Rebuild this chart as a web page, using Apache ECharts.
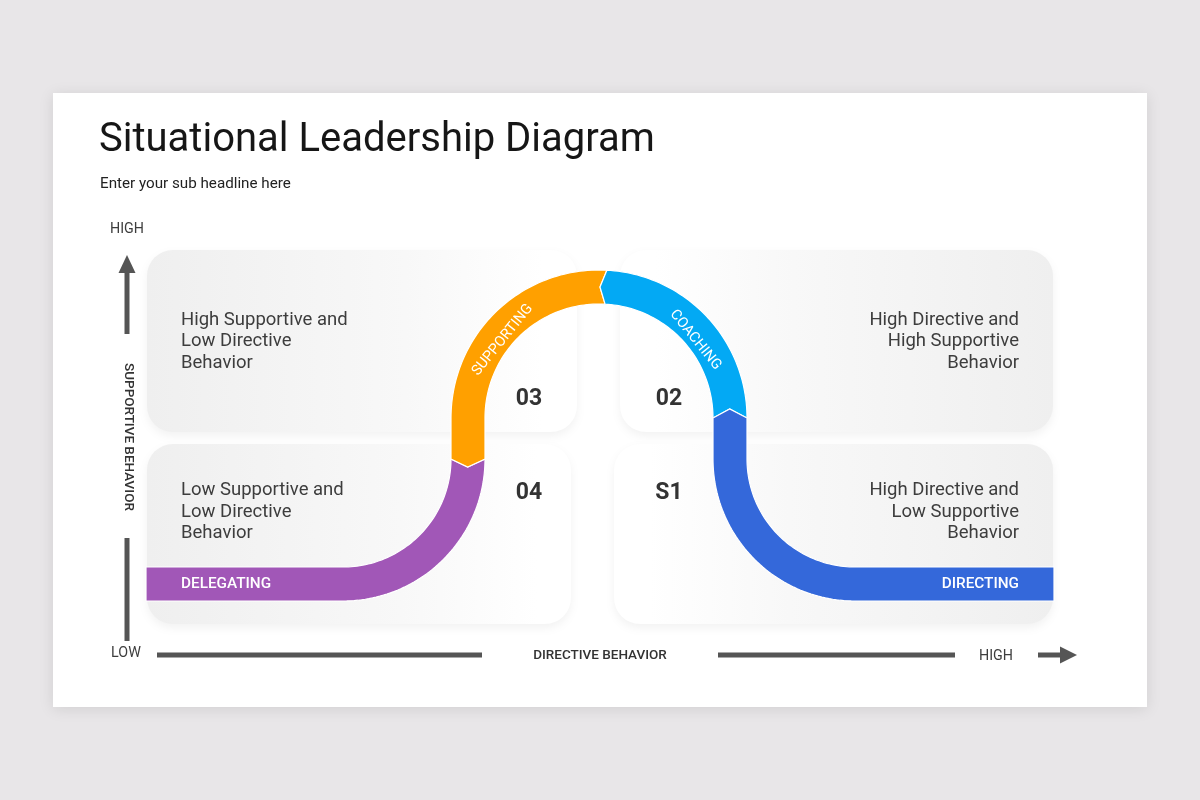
<!DOCTYPE html>
<html>
<head>
<meta charset="utf-8">
<script src="https://cdn.jsdelivr.net/npm/echarts@6/dist/echarts.min.js"></script>
<style>
html,body{margin:0;padding:0;background:#e8e6e8;}
#chart{width:1200px;height:800px;}
</style>
</head>
<body>
<div id="chart"></div>
<script>
// ---------- data ----------
const titleText = 'Situational Leadership Diagram';
const subTitleText = 'Enter your sub headline here';
const stageNames = ['DELEGATING', 'SUPPORTING', 'COACHING', 'DIRECTING'];
const stageNumbers = ['04', '03', '02', 'S1'];
const quadrantTexts = [
  'High Supportive and\nLow Directive\nBehavior',
  'High Directive and\nHigh Supportive\nBehavior',
  'Low Supportive and\nLow Directive\nBehavior',
  'High Directive and\nLow Supportive\nBehavior'
];
const axisNames = ['DIRECTIVE BEHAVIOR', 'SUPPORTIVE BEHAVIOR'];
const levelLabels = ['LOW', 'HIGH'];

// ---------- styles ----------
const FONT = 'Roboto, "Noto Sans", sans-serif';
const stageColors = ['#a157b7', '#ffa000', '#03a9f4', '#3468da'];
const axisColor = '#555555';
const textColor = '#3d3d3d';

// ---------- geometry of the band (diagram units on hidden axes) ----------
const HALF = 17;
const G = { xL: 146, xR: 1054, yB: 584, cx: 599, R: 131, yA: 418, yK: 459, r: 125 };

function buildPath() {
  const pts = [];
  let s = 0, last = null;
  const marks = {};
  const add = (x, y, tx, ty) => {
    if (last) s += Math.hypot(x - last.x, y - last.y);
    last = { x, y, tx, ty, s };
    pts.push(last);
  };
  const N = 60;
  const qL = G.cx - G.R - G.r, qR = G.cx + G.R + G.r;
  add(G.xL, G.yB, 1, 0);
  add(qL, G.yB, 1, 0);
  for (let k = 1; k <= N; k++) {
    const a = Math.PI / 2 - (Math.PI / 2) * k / N;
    add(qL + G.r * Math.cos(a), G.yK + G.r * Math.sin(a), Math.sin(a), -Math.cos(a));
  }
  marks.b1 = s;
  add(G.cx - G.R, G.yA, 0, -1);
  marks.archStart = s;
  for (let k = 1; k <= 2 * N; k++) {
    const a = Math.PI + Math.PI * k / (2 * N);
    add(G.cx + G.R * Math.cos(a), G.yA + G.R * Math.sin(a), -Math.sin(a), Math.cos(a));
    if (k === N) marks.top = s;
  }
  marks.archEnd = s;
  add(G.cx + G.R, G.yK, 0, 1);
  for (let k = 1; k <= N; k++) {
    const a = Math.PI - (Math.PI / 2) * k / N;
    add(qR + G.r * Math.cos(a), G.yK + G.r * Math.sin(a), Math.sin(a), -Math.cos(a));
  }
  add(G.xR, G.yB, 1, 0);
  marks.total = s;
  return { pts, marks };
}
const PATH = buildPath();
const BOUNDS = [0, PATH.marks.b1, PATH.marks.top + 7, PATH.marks.archEnd, PATH.marks.total];
const TIP = [0, 8, 6, 9];

function at(s) {
  const p = PATH.pts;
  if (s <= p[0].s) return p[0];
  for (let i = 1; i < p.length; i++) {
    if (p[i].s >= s) {
      const a = p[i - 1], b = p[i];
      const t = b.s === a.s ? 0 : (s - a.s) / (b.s - a.s);
      let tx = a.tx + (b.tx - a.tx) * t, ty = a.ty + (b.ty - a.ty) * t;
      const l = Math.hypot(tx, ty) || 1;
      return { x: a.x + (b.x - a.x) * t, y: a.y + (b.y - a.y) * t, tx: tx / l, ty: ty / l, s };
    }
  }
  return p[p.length - 1];
}
function sampleRange(s0, s1) {
  const out = [at(s0)];
  PATH.pts.forEach(p => { if (p.s > s0 + 0.01 && p.s < s1 - 0.01) out.push(p); });
  out.push(at(s1));
  return out;
}
function segmentPoints(i, api) {
  const s0 = BOUNDS[i], s1 = BOUNDS[i + 1];
  const pts = [];
  if (i > 0) { const c = at(s0 - TIP[i]); pts.push([c.x, c.y]); }
  const sm = sampleRange(s0, s1);
  sm.forEach(p => pts.push([p.x - p.ty * HALF, p.y + p.tx * HALF]));
  if (i < 3) { const c = at(s1 - TIP[i + 1]); pts.push([c.x, c.y]); }
  sm.slice().reverse().forEach(p => pts.push([p.x + p.ty * HALF, p.y - p.tx * HALF]));
  return pts.map(q => api.coord(q));
}

// ---------- render functions ----------
function renderCard(params, api) {
  const a = api.coord([53, 93]), b = api.coord([1147, 707]);
  const t1 = api.coord([99, 141]), t2 = api.coord([100, 184]);
  return {
    type: 'group',
    children: [
      { type: 'rect', shape: { x: a[0], y: a[1], width: b[0] - a[0], height: b[1] - a[1] },
        style: { fill: '#ffffff', shadowBlur: 14, shadowColor: 'rgba(0,0,0,0.10)', shadowOffsetY: 2 } },
      { type: 'text', x: t1[0], y: t1[1],
        style: { text: titleText, fill: '#161616', fontSize: 40, fontFamily: FONT, fontWeight: 'normal', align: 'left', verticalAlign: 'middle' } },
      { type: 'text', x: t2[0], y: t2[1],
        style: { text: subTitleText, fill: '#222', fontSize: 15.2, fontFamily: FONT, align: 'left', verticalAlign: 'middle' } }
    ]
  };
}

const PANELS = [
  { x: 147, y: 250, w: 430, h: 182, side: 'L', tx: 181, ty: 341.5 },
  { x: 620, y: 250, w: 433, h: 182, side: 'R', tx: 1019, ty: 341.5 },
  { x: 147, y: 444, w: 424, h: 180, side: 'L', tx: 181, ty: 512 },
  { x: 614, y: 444, w: 439, h: 180, side: 'R', tx: 1019, ty: 512 }
];
function renderPanel(params, api) {
  const i = params.dataIndex, P = PANELS[i];
  const a = api.coord([P.x, P.y]), b = api.coord([P.x + P.w, P.y + P.h]);
  const tp = api.coord([P.tx, P.ty]);
  const grad = P.side === 'L'
    ? new echarts.graphic.LinearGradient(0, 0, 1, 0, [{ offset: 0, color: '#efefef' }, { offset: 0.6, color: '#f8f8f8' }, { offset: 0.92, color: '#ffffff' }, { offset: 1, color: '#ffffff' }])
    : new echarts.graphic.LinearGradient(0, 0, 1, 0, [{ offset: 0, color: '#ffffff' }, { offset: 0.08, color: '#ffffff' }, { offset: 0.4, color: '#f8f8f8' }, { offset: 1, color: '#efefef' }]);
  return {
    type: 'group',
    children: [
      { type: 'rect', shape: { x: a[0], y: a[1], width: b[0] - a[0], height: b[1] - a[1], r: 26 },
        style: { fill: grad, shadowBlur: 8, shadowColor: 'rgba(0,0,0,0.05)', shadowOffsetY: 4 } },
      { type: 'text', x: tp[0], y: tp[1],
        style: { text: quadrantTexts[i], fill: textColor, fontSize: 18.5, lineHeight: 21.5, fontFamily: FONT,
          align: P.side === 'L' ? 'left' : 'right', verticalAlign: 'middle' } }
    ]
  };
}

const STAGE_LABEL = [
  { kind: 'flat', x: 181, y: 584, align: 'left' },
  { kind: 'arc', s: () => PATH.marks.archStart + G.R * 0.68, off: 7 },
  { kind: 'arc', s: () => PATH.marks.archEnd - G.R * 0.68, off: 7 },
  { kind: 'flat', x: 1019, y: 584, align: 'right' }
];
const NUM_POS = [[529, 493.5], [529, 399.5], [669, 399.5], [669, 493.5]];
function renderStage(params, api) {
  const i = params.dataIndex;
  const children = [];
  children.push({ type: 'polygon', shape: { points: segmentPoints(i, api) },
    style: { fill: stageColors[i], stroke: '#ffffff', lineWidth: 1.2, lineJoin: 'miter' } });
  const L = STAGE_LABEL[i];
  if (L.kind === 'flat') {
    const p = api.coord([L.x, L.y]);
    children.push({ type: 'text', x: p[0], y: p[1],
      style: { text: stageNames[i], fill: '#ffffff', fontSize: 15.3, fontFamily: FONT, fontWeight: 500, align: L.align, verticalAlign: 'middle' } });
  } else {
    const c = at(L.s());
    const nx = c.x - G.cx, ny = c.y - G.yA, nl = Math.hypot(nx, ny);
    const px = c.x - nx / nl * L.off, py = c.y - ny / nl * L.off;
    const p = api.coord([px, py]);
    children.push({ type: 'text', x: p[0], y: p[1], rotation: -Math.atan2(c.ty, c.tx),
      style: { text: stageNames[i], fill: '#ffffff', fontSize: 14.5, fontFamily: FONT, align: 'center', verticalAlign: 'middle' } });
  }
  const np = api.coord(NUM_POS[i]);
  children.push({ type: 'text', x: np[0], y: np[1],
    style: { text: stageNumbers[i], fill: '#333333', fontSize: 23, fontWeight: 'bold', fontFamily: FONT, align: 'center', verticalAlign: 'middle' } });
  return { type: 'group', children };
}

function renderAxes(params, api) {
  const c = (x, y) => api.coord([x, y]);
  const poly = pts => ({ type: 'polygon', shape: { points: pts.map(q => c(q[0], q[1])) }, style: { fill: axisColor } });
  const rect = (x0, y0, x1, y1) => poly([[x0, y0], [x1, y0], [x1, y1], [x0, y1]]);
  const txt = (t, x, y, o) => Object.assign({ type: 'text', x: c(x, y)[0], y: c(x, y)[1] },
    { rotation: (o && o.rot) || 0,
      style: Object.assign({ text: t, fill: '#3d3d3d', fontSize: 14.3, fontFamily: FONT, align: 'center', verticalAlign: 'middle' }, (o && o.style) || {}) });
  return {
    type: 'group',
    children: [
      poly([[127, 255], [135.5, 273], [118.5, 273]]),
      rect(124.5, 272, 129.5, 334),
      rect(124.5, 538, 129.5, 641),
      txt(levelLabels[1], 127, 229.5),
      txt(levelLabels[0], 126, 653.5),
      txt(axisNames[1], 128, 437, { rot: -Math.PI / 2, style: { fontSize: 13.5, fontWeight: 500, fill: '#333' } }),
      rect(157, 652.5, 482, 657.5),
      rect(718, 652.5, 955, 657.5),
      txt(axisNames[0], 600, 656, { style: { fontSize: 13.5, fontWeight: 500, fill: '#333' } }),
      txt(levelLabels[1], 996, 656.5),
      rect(1038, 652.5, 1061, 657.5),
      poly([[1060, 646.5], [1077, 655], [1060, 663.5]])
    ]
  };
}

// ---------- chart ----------
const chart = echarts.init(document.getElementById('chart'), null, { renderer: 'canvas' });
chart.setOption({
  backgroundColor: '#e8e6e8',
  animation: false,
  grid: { left: 0, right: 0, top: 0, bottom: 0 },
  xAxis: { type: 'value', min: 0, max: 1200, show: false },
  yAxis: { type: 'value', min: 0, max: 800, inverse: true, show: false },
  series: [
    { type: 'custom', name: 'card', z: 1, silent: true, data: [[0, 0]], renderItem: renderCard },
    { type: 'custom', name: 'quadrants', z: 2, silent: true, data: quadrantTexts.map((t, i) => [i, 0]), renderItem: renderPanel },
    { type: 'custom', name: 'stages', z: 3, silent: true, data: stageNames.map((n, i) => [i, 0]), renderItem: renderStage },
    { type: 'custom', name: 'axes', z: 3, silent: true, data: [[0, 0]], renderItem: renderAxes }
  ]
});
</script>
</body>
</html>
